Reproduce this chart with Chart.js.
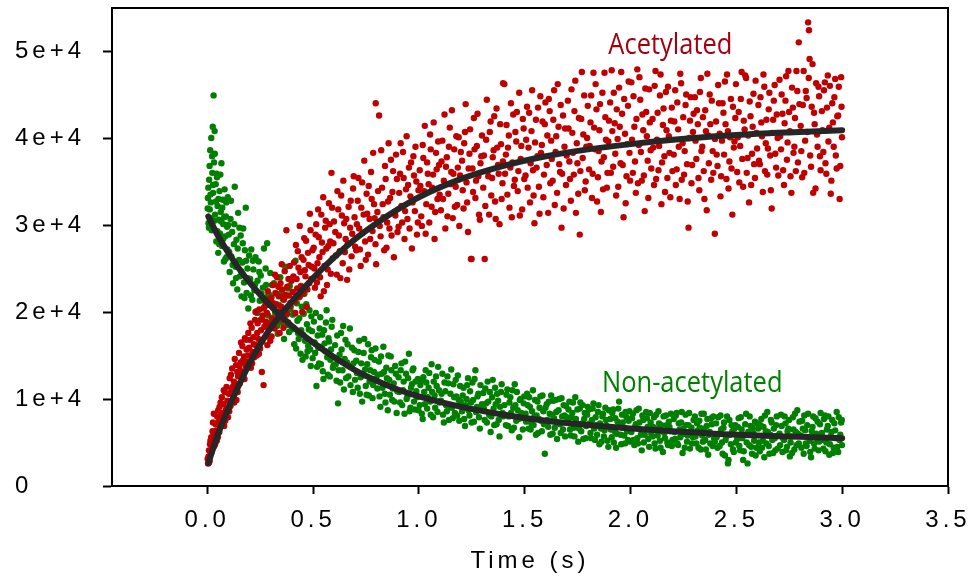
<!DOCTYPE html>
<html>
<head>
<meta charset="utf-8">
<script src="https://cdn.jsdelivr.net/npm/chart.js@4.4.1/dist/chart.umd.min.js"></script>
<style>
    html, body { margin: 0; padding: 0; background: #fff; }
    canvas { display: block; }
</style>
</head>
<body>
<canvas id="grafico" width="972" height="581"></canvas>
<script>
// eixos
const xTicks = [0, 0.5, 1.0, 1.5, 2.0, 2.5, 3.0, 3.5];
const yTicks = [0, 10000, 20000, 30000, 40000, 50000];
const yTickLabels = ['0', '1e+4', '2e+4', '3e+4', '4e+4', '5e+4'];

// pontos: [tempo (s), sinal]
const acetylatedPointsA = [
    [0.004,2600],[0.006,3400],[0.008,4100],[0.011,2900],[0.013,4800],[0.016,3700],[0.019,5600],[0.022,4400],[0.025,6300],[0.028,5100],
    [0.031,8300],[0.034,5900],[0.037,4800],[0.040,7100],[0.043,6400],[0.047,8000],[0.050,5600],[0.054,7400],[0.058,9100],[0.061,6800],
    [0.065,8400],[0.069,10200],[0.072,7600],[0.076,9400],[0.080,6900],[0.083,10800],[0.087,8700],[0.091,11400],[0.095,9800],[0.098,7900],
    [0.102,10600],[0.106,12400],[0.110,9200],[0.114,11100],[0.118,13500],[0.122,10300],[0.126,12000],[0.130,14600],[0.134,11700],[0.138,9900],
    [0.142,13100],[0.146,12600],[0.150,15300],[0.154,11800],[0.158,14200],[0.162,13200],[0.166,16100],[0.170,12900],[0.174,14900],[0.178,17000],
    [0.182,13800],[0.186,15700],[0.190,14300],[0.194,17600],[0.198,15900],
    [0.202,16800],[0.206,13600],[0.210,18200],[0.214,15400],[0.218,17100],[0.222,14800],[0.226,19100],[0.230,16200],[0.234,15000],[0.238,18700],
    [0.242,16900],[0.246,20300],[0.250,15800],[0.254,17900],[0.258,13100],[0.262,19600],[0.266,11600],[0.270,18300],[0.274,21200],[0.278,17200],
    [0.282,19900],[0.286,22400],[0.290,18600],[0.294,20800],[0.298,16700],
    [0.302,21600],[0.306,19300],[0.310,23100],[0.314,20400],[0.318,18100],[0.322,22200],[0.326,20900],[0.330,24000],[0.334,19700],[0.338,21800],
    [0.342,17600],[0.346,23300],[0.350,20600],[0.354,22600],[0.358,19100],[0.362,21400],[0.366,24700],[0.370,20100],[0.374,29400],[0.378,22900],
    [0.382,18800],[0.386,21900],[0.390,25300],[0.394,20700],[0.398,23600],
    [0.404,22300],[0.410,25700],[0.416,19900],[0.422,23800],[0.428,27000],[0.434,21700],[0.440,24600],[0.446,26300],[0.452,22100],[0.458,28500],
    [0.464,24100],[0.470,20600],[0.476,26800],[0.482,23300],[0.488,29400],[0.494,25200],
    [0.503,27400],[0.509,22800],[0.515,30100],[0.521,25600],[0.527,28600],[0.533,24000],[0.539,31200],[0.545,26900],[0.551,22400],[0.557,29700],
    [0.563,27300],[0.569,24900],[0.575,32500],[0.581,28100],[0.587,36000],[0.593,26200],[0.599,30400],
    [0.605,29200],[0.612,24300],[0.619,31800],[0.626,27000],[0.633,33400],[0.640,25600],[0.647,30200],[0.654,28400],[0.661,23700],[0.668,32100],
    [0.675,29700],[0.682,26400],[0.689,34200],[0.696,30900],
    [0.704,27100],[0.711,32800],[0.718,29600],[0.725,25300],[0.732,34900],[0.739,31200],[0.746,28100],[0.753,33600],[0.760,26600],[0.767,30700],
    [0.774,36100],[0.781,29300],[0.788,32400],[0.795,27800],[0.796,44000],
    [0.804,31500],[0.812,42600],[0.819,28700],[0.826,34300],[0.833,30900],[0.840,36800],[0.847,27400],[0.854,32700],[0.861,29600],[0.868,37500],
    [0.875,33800],[0.882,26300],[0.889,31100],[0.896,35300],
    [0.904,29800],[0.911,35900],[0.918,32200],[0.925,38400],[0.932,28400],[0.939,34100],[0.946,30700],[0.953,36600],[0.960,33300],[0.967,27300],
    [0.974,37900],[0.981,31600],[0.988,35000],[0.995,30300],
    [1.004,36300],[1.011,31000],[1.018,39200],[1.025,33900],[1.032,29000],[1.039,37200],[1.046,34700],[1.053,40400],[1.060,32100],[1.067,35800],
    [1.074,28400],[1.081,38300],[1.088,33000],[1.095,36900],
    [1.104,31700],[1.111,39700],[1.118,35100],[1.125,29600],[1.132,37800],[1.139,33600],[1.146,41200],[1.153,36100],[1.160,30800],[1.167,38700],
    [1.174,34400],[1.181,32300],[1.188,40100],[1.195,35700],
    [1.204,37400],[1.211,31900],[1.218,40700],[1.225,34900],[1.232,29200],[1.239,38200],[1.246,26100],[1.253,36500],[1.260,42300],[1.267,33100],
    [1.274,39100],[1.281,35600],[1.288,30600],[1.295,37900],
    [1.304,34300],[1.311,26100],[1.318,39800],[1.325,36200],[1.332,31200],[1.339,41900],[1.346,35400],[1.353,38600],[1.360,32700],[1.367,43400],
    [1.374,36900],[1.381,30100],[1.388,39300],[1.395,34800],[1.398,46300],
    [1.404,46200],[1.411,38100],[1.418,33500],[1.425,40300],[1.432,36600],[1.439,30900],[1.446,42700],[1.453,35200],[1.460,39600],[1.467,33900],
    [1.474,45200],[1.481,37600],[1.488,31800],[1.495,41100],
    [1.504,35700],[1.511,43600],[1.518,38900],[1.525,32600],[1.532,40800],[1.539,36300],[1.546,30200],[1.553,42100],[1.560,37900],[1.567,34400],
    [1.574,44800],[1.581,39200],[1.588,33200],[1.595,41600],
    [1.604,36900],[1.611,31400],[1.618,43100],[1.625,39700],[1.632,35100],[1.639,45500],[1.646,38400],[1.653,33700],[1.660,41300],[1.667,36100],
    [1.674,29700],[1.681,42600],[1.688,39000],[1.695,34600],
    [1.704,44300],[1.711,37300],[1.718,32800],[1.725,40600],[1.732,35800],[1.739,46600],[1.746,39400],[1.753,33600],[1.760,28900],[1.767,42200],
    [1.774,37700],[1.781,44900],[1.788,35000],[1.795,40000],
    [1.804,36400],[1.811,41800],[1.818,33100],[1.825,47500],[1.832,38700],[1.839,43300],[1.846,35500],[1.853,40900],[1.860,31500],[1.867,45200],
    [1.874,37800],[1.881,42400],[1.888,34300],[1.895,39600],
    [1.904,44100],[1.911,47800],[1.918,36700],[1.925,41700],[1.932,33400],[1.939,39900],[1.946,45800],[1.953,37100],[1.960,42800],[1.967,30900],
    [1.974,40500],[1.981,35600],[1.988,43700],[1.995,38300],
    [2.004,46400],[2.011,36000],[2.018,41300],[2.025,33700],[2.032,47900],[2.039,39200],[2.046,44400],[2.053,35100],[2.060,40900],[2.067,31600],
    [2.074,43000],[2.081,37400],[2.088,45600],[2.095,38600],
    [2.104,42200],[2.111,34600],[2.118,47700],[2.125,39800],[2.132,36300],[2.139,44900],[2.146,32400],[2.153,41500],[2.160,37900],[2.167,45300],
    [2.174,35400],[2.181,40200],[2.188,33200],[2.195,43500],
    [2.204,38100],[2.211,45500],[2.218,36400],[2.225,41000],[2.232,33000],[2.239,46300],[2.246,39400],[2.253,35800],[2.260,43800],[2.267,37000],
    [2.274,29700],[2.281,42000],[2.288,34800],[2.295,40700],
    [2.304,44700],[2.311,37600],[2.318,41600],[2.325,34000],[2.332,46900],[2.339,39000],[2.346,36200],[2.353,43200],[2.360,31700],[2.367,40300],
    [2.374,45000],[2.381,35200],[2.388,38500],[2.398,29000],
    [2.404,41900],[2.411,36800],[2.418,44000],[2.425,33300],[2.432,39700],[2.439,42900],[2.446,46500],[2.453,35300],[2.460,40800],[2.467,37300],
    [2.474,44500],[2.481,31200],[2.488,38900],[2.495,42300],
    [2.504,36100],[2.511,43000],[2.518,39100],[2.525,47600],[2.532,34400],[2.539,41000],[2.546,46900],[2.553,37700],[2.560,32600],[2.567,42500],
    [2.574,38200],[2.581,45100],[2.588,35400],[2.595,40600],
    [2.604,43800],[2.611,37000],[2.618,41800],[2.625,33800],[2.632,45900],[2.639,39400],[2.646,35800],[2.653,43300],[2.660,38000],[2.667,31900],
    [2.674,42100],[2.681,46100],[2.688,36600],[2.695,40000],
    [2.704,46700],[2.711,38700],[2.718,42800],[2.725,34600],[2.732,44300],[2.739,37500],[2.746,47700],[2.753,40800],[2.760,33700],[2.767,43500],
    [2.774,39000],[2.781,36200],[2.788,45400],[2.795,51000],
    [2.804,41400],[2.811,35500],[2.818,47700],[2.825,39700],[2.832,44600],[2.839,53300],[2.843,52400],[2.846,49100],[2.853,36700],[2.860,48500],
    [2.867,42900],[2.874,34200],[2.881,40400],[2.888,45900],[2.895,37900],
    [2.904,43100],[2.911,38400],[2.918,46400],[2.925,35900],[2.932,47200],[2.939,41200],[2.946,33600],[2.953,44000],[2.960,39000],[2.967,46800],
    [2.974,36500],[2.981,42600],[2.988,33000],[2.995,47000],[2.999,40100]
];

const acetylatedPointsB = [
    [0.002,3100],[0.009,2700],[0.015,5200],[0.020,3900],[0.027,7300],[0.033,4600],[0.039,6000],[0.045,5200],[0.052,8700],[0.057,6200],
    [0.063,9600],[0.070,8100],[0.078,11000],[0.085,7500],[0.093,9000],
    [0.104,8600],[0.112,12800],[0.120,11400],[0.128,9600],[0.136,13900],[0.144,10800],[0.152,13800],[0.160,16500],[0.168,14400],[0.176,12300],
    [0.184,16800],[0.192,15000],
    [0.204,18700],[0.212,14100],[0.220,16300],[0.228,20000],[0.236,17600],[0.244,15200],[0.252,19100],[0.260,16600],[0.268,20500],[0.276,18900],
    [0.284,16200],[0.292,21500],
    [0.304,17200],[0.312,21000],[0.320,24300],[0.328,19000],[0.336,22900],[0.344,20100],[0.352,25500],[0.360,18200],[0.368,22000],[0.376,19800],
    [0.384,23800],[0.392,21000],
    [0.407,24100],[0.413,21200],[0.419,27700],[0.425,22700],[0.431,25100],[0.437,29900],[0.443,23000],[0.449,20000],[0.455,26000],[0.461,24800],
    [0.467,28200],[0.473,22600],[0.479,25400],[0.485,31300],[0.491,23800],[0.497,27100],
    [0.506,25000],[0.512,28900],[0.518,23400],[0.524,31800],[0.530,26300],[0.536,21800],[0.542,28000],[0.548,33200],[0.554,25300],[0.560,30500],
    [0.566,23100],[0.572,27600],[0.578,30100],[0.584,24400],[0.590,32000],[0.596,27900],
    [0.608,26500],[0.615,33900],[0.622,28800],[0.629,23900],[0.636,31100],[0.643,35100],[0.650,26900],[0.657,30700],[0.664,27900],[0.671,24900],
    [0.678,32800],[0.685,29000],[0.692,35600],[0.699,27500],
    [0.707,30100],[0.714,35400],[0.721,27200],[0.728,32000],[0.735,29100],[0.742,37400],[0.749,26000],[0.756,31300],[0.763,34500],[0.770,28400],
    [0.777,33000],[0.784,38300],[0.791,30800],[0.798,25500],
    [0.807,33900],[0.815,29900],[0.822,38600],[0.829,32400],[0.836,27100],[0.843,35300],[0.850,30300],[0.857,39400],[0.864,33100],[0.871,28800],
    [0.878,36200],[0.885,31500],[0.892,38100],[0.899,29200],
    [0.907,33700],[0.914,39400],[0.921,30300],[0.928,35400],[0.935,31600],[0.942,40200],[0.949,34600],[0.956,29600],[0.963,37200],[0.970,32600],
    [0.977,35700],[0.984,39000],[0.991,28900],[0.998,34000],
    [1.007,34500],[1.014,29900],[1.021,37700],[1.028,41400],[1.035,32400],[1.042,35900],[1.049,30300],[1.056,38700],[1.063,34300],[1.070,41800],
    [1.077,31500],[1.084,36400],[1.091,39600],[1.098,33500],
    [1.107,37300],[1.114,33000],[1.121,42700],[1.128,36700],[1.135,31000],[1.142,39000],[1.149,34700],[1.156,43200],[1.163,35900],[1.170,32100],
    [1.177,40200],[1.184,36600],[1.191,29900],[1.198,38400],
    [1.207,34000],[1.214,39400],[1.221,43900],[1.228,32600],[1.235,36500],[1.242,41000],[1.249,26100],[1.256,33800],[1.263,38700],[1.270,35100],
    [1.277,42800],[1.284,31200],[1.291,37100],[1.298,40300],
    [1.307,38000],[1.314,32200],[1.321,44400],[1.328,35600],[1.335,40700],[1.342,33400],[1.349,37800],[1.356,42500],[1.363,30700],[1.370,38900],
    [1.377,35900],[1.384,41600],[1.391,33000],[1.397,37300],
    [1.407,35900],[1.414,41500],[1.421,38900],[1.428,32000],[1.435,44000],[1.442,37200],[1.449,34500],[1.456,40700],[1.463,43000],[1.470,36200],
    [1.477,31100],[1.484,39100],[1.491,42200],[1.498,35300],
    [1.507,39800],[1.514,34300],[1.521,42900],[1.528,37100],[1.535,45500],[1.542,33400],[1.549,39500],[1.556,36600],[1.563,43500],[1.570,31300],
    [1.577,38300],[1.584,41900],[1.591,35800],[1.598,44100],
    [1.607,40300],[1.614,44500],[1.621,34800],[1.628,37600],[1.635,42100],[1.642,32300],[1.649,40200],[1.656,46200],[1.663,37000],[1.670,43800],
    [1.677,35900],[1.684,31900],[1.691,41100],[1.698,38000],
    [1.707,41100],[1.714,35300],[1.721,45600],[1.728,38300],[1.735,43100],[1.742,31400],[1.749,37100],[1.756,42300],[1.763,36200],[1.770,47600],
    [1.777,40400],[1.784,34000],[1.791,39000],[1.798,43700],
    [1.807,39100],[1.814,44900],[1.821,35900],[1.828,41200],[1.835,46200],[1.842,32700],[1.849,38500],[1.856,43900],[1.863,37300],[1.870,34100],
    [1.877,47500],[1.884,39800],[1.891,36000],[1.898,42000],
    [1.907,36000],[1.914,40800],[1.921,45200],[1.928,38200],[1.935,43300],[1.942,34400],[1.949,41300],[1.956,47600],[1.963,36900],[1.970,44500],
    [1.977,32500],[1.984,39300],[1.991,46500],[1.998,35100],
    [2.007,39800],[2.014,44800],[2.021,37300],[2.028,42200],[2.035,34800],[2.042,47000],[2.049,38400],[2.056,42700],[2.063,35700],[2.070,45700],
    [2.077,40200],[2.084,33100],[2.091,41800],[2.098,36500],
    [2.107,38900],[2.114,46000],[2.121,35300],[2.128,42900],[2.135,39100],[2.142,47300],[2.149,37200],[2.156,43400],[2.163,33800],[2.170,40900],
    [2.177,45900],[2.184,38300],[2.191,42000],[2.198,36200],
    [2.207,41900],[2.214,34600],[2.221,44100],[2.228,39000],[2.235,47400],[2.242,35200],[2.249,42400],[2.256,38500],[2.263,45000],[2.270,32700],
    [2.277,40000],[2.284,44700],[2.291,36900],[2.298,42800],
    [2.307,39700],[2.314,43200],[2.321,35400],[2.328,45300],[2.335,38500],[2.342,42400],[2.349,33000],[2.356,40800],[2.363,47400],[2.370,37100],
    [2.377,41600],[2.384,44300],[2.391,36000],[2.399,39900],
    [2.407,38100],[2.414,46100],[2.421,40500],[2.428,35600],[2.435,44000],[2.442,38100],[2.449,41600],[2.456,47300],[2.463,34200],[2.470,40100],
    [2.477,36500],[2.484,43600],[2.491,39600],[2.498,46200],
    [2.507,40100],[2.514,34900],[2.521,44500],[2.528,37600],[2.535,42000],[2.542,47200],[2.549,36000],[2.556,40300],[2.563,44200],[2.570,34600],
    [2.577,41300],[2.584,37000],[2.591,46600],[2.598,38800],
    [2.607,37400],[2.614,44700],[2.621,40200],[2.628,47300],[2.635,36200],[2.642,42100],[2.649,38800],[2.656,45200],[2.663,34000],[2.670,40600],
    [2.677,44300],[2.684,38200],[2.691,42700],[2.698,35700],
    [2.707,40200],[2.714,45000],[2.721,36300],[2.728,41700],[2.735,47100],[2.742,39500],[2.749,43000],[2.756,35600],[2.763,45800],[2.770,38300],
    [2.777,42300],[2.784,47700],[2.791,37200],[2.798,43900],
    [2.807,38500],[2.814,43800],[2.821,36000],[2.828,45400],[2.835,40700],[2.842,46900],[2.849,38000],[2.856,43600],[2.863,33700],[2.870,41600],
    [2.877,46300],[2.884,39000],[2.891,44800],[2.898,36300],
    [2.907,40900],[2.914,45500],[2.921,37100],[2.928,43500],[2.935,39600],[2.942,46000],[2.949,35100],[2.956,41800],[2.963,44700],[2.970,38000],
    [2.977,42500],[2.984,45900],[2.991,36800],[2.997,43600]
];

const nonAcetylatedPointsA = [
    [0.003,33100],[0.006,30200],[0.009,35200],[0.012,31800],[0.014,38600],[0.017,32600],[0.019,40000],[0.021,29400],[0.024,36000],[0.026,41300],
    [0.028,33700],[0.030,44900],[0.032,37200],[0.035,40800],[0.037,31200],[0.040,34700],[0.043,28100],[0.046,35500],[0.049,32200],[0.052,26800],
    [0.055,30600],[0.058,33900],[0.061,29000],[0.064,31500],[0.067,37100],[0.070,27600],[0.073,32900],[0.076,30100],[0.079,25800],[0.082,34100],
    [0.085,28700],[0.088,31000],[0.091,26300],[0.094,29800],[0.097,33200],
    [0.102,28900],[0.106,24600],[0.110,30700],[0.114,26400],[0.118,29200],[0.122,23300],[0.126,27800],[0.130,34400],[0.134,25200],[0.138,28300],
    [0.142,22600],[0.146,31400],[0.150,26000],[0.154,24100],[0.158,28800],[0.162,21800],[0.166,25700],[0.170,29600],[0.174,23400],[0.178,27100],
    [0.182,32000],[0.186,22200],[0.190,25000],[0.194,20400],[0.198,26500],
    [0.203,23800],[0.208,27200],[0.213,21400],[0.218,24900],[0.223,22500],[0.228,26300],[0.233,20100],[0.238,23600],[0.243,25800],[0.248,21300],
    [0.253,24200],[0.258,19200],[0.263,22800],[0.268,27300],[0.273,20700],[0.278,23100],[0.283,27900],[0.288,19600],[0.293,22000],[0.298,24500],
    [0.303,21700],[0.309,18300],[0.315,23300],[0.321,19900],[0.327,22100],[0.333,17500],[0.339,20800],[0.345,24000],[0.351,18800],[0.357,21500],
    [0.363,16900],[0.369,25200],[0.375,19700],[0.381,22700],[0.387,17700],[0.393,20300],[0.399,18000],
    [0.405,19700],[0.411,16300],[0.417,25900],[0.423,21000],[0.429,17600],[0.435,19300],[0.441,15200],[0.447,20600],[0.453,17400],[0.459,22100],
    [0.465,14900],[0.471,18600],[0.477,16100],[0.483,20200],[0.489,13800],[0.495,17800],
    [0.504,18900],[0.510,15300],[0.516,11500],[0.522,17300],[0.528,14100],[0.534,19400],[0.540,16000],[0.546,13200],[0.552,17900],[0.558,15500],
    [0.564,20200],[0.570,12800],[0.576,16600],[0.582,14500],[0.588,18300],[0.594,13600],
    [0.604,16200],[0.611,12100],[0.618,9500],[0.625,15100],[0.632,17600],[0.639,13300],[0.646,11100],[0.653,16800],[0.660,14200],[0.667,12600],
    [0.674,18100],[0.681,13700],[0.688,10800],[0.695,15600],
    [0.704,14400],[0.711,11300],[0.718,16700],[0.725,12500],[0.732,9700],[0.739,15300],[0.746,13400],[0.753,10500],[0.760,16300],[0.767,12000],
    [0.774,14800],[0.781,10100],[0.788,13100],[0.795,15800],
    [0.804,11200],[0.811,14300],[0.818,9100],[0.825,12900],[0.832,16000],[0.839,10600],[0.846,13600],[0.853,8700],[0.860,12200],[0.867,14900],
    [0.874,9900],[0.881,11800],[0.888,13800],[0.895,8400],
    [0.904,12500],[0.911,9600],[0.918,14100],[0.925,11000],[0.932,8300],[0.939,12900],[0.946,10300],[0.953,15200],[0.960,9000],[0.967,11700],
    [0.974,13500],[0.981,8800],[0.988,10900],[0.995,12300],
    [1.004,9300],[1.011,12100],[1.018,7700],[1.025,10800],[1.032,13300],[1.039,8900],[1.046,11300],[1.053,9700],[1.060,14000],[1.067,7900],
    [1.074,10400],[1.081,12600],[1.088,8500],[1.095,11000],
    [1.104,9800],[1.111,12900],[1.118,7300],[1.125,10900],[1.132,8600],[1.139,11800],[1.146,9200],[1.153,13400],[1.160,7800],[1.167,10200],
    [1.174,12200],[1.181,8100],[1.188,9900],[1.195,11500],
    [1.204,8600],[1.211,11300],[1.218,6900],[1.225,10000],[1.232,12400],[1.239,8100],[1.246,9600],[1.253,11900],[1.260,7400],[1.267,13300],
    [1.274,9100],[1.281,10600],[1.288,6600],[1.295,8800],
    [1.304,10700],[1.311,7600],[1.318,9500],[1.325,12000],[1.332,8200],[1.339,6200],[1.346,10200],[1.353,8900],[1.360,11300],[1.367,7100],
    [1.374,9800],[1.381,5700],[1.388,10800],[1.395,8400],
    [1.404,9300],[1.411,7000],[1.418,11100],[1.425,8000],[1.432,10200],[1.439,6400],[1.446,9000],[1.453,11700],[1.460,7500],[1.467,8700],
    [1.474,5600],[1.481,10000],[1.488,7800],[1.495,9500],
    [1.504,8300],[1.511,10600],[1.518,6600],[1.525,9100],[1.532,7200],[1.539,11000],[1.546,8000],[1.553,5900],[1.560,9700],[1.567,7700],
    [1.574,10300],[1.581,6300],[1.588,8600],[1.595,3700],
    [1.604,9400],[1.611,6800],[1.618,8300],[1.625,10400],[1.632,6000],[1.639,7800],[1.646,9900],[1.653,5400],[1.660,8700],[1.667,7100],
    [1.674,10100],[1.681,6500],[1.688,8100],[1.695,9200],
    [1.704,7500],[1.711,9700],[1.718,5800],[1.725,8400],[1.732,6700],[1.739,10200],[1.746,7200],[1.753,5100],[1.760,8900],[1.767,6300],
    [1.774,9300],[1.781,7700],[1.788,5500],[1.795,8200],
    [1.804,8800],[1.811,6100],[1.818,7600],[1.825,9500],[1.832,5300],[1.839,7000],[1.846,8500],[1.853,4800],[1.860,6600],[1.867,8000],
    [1.874,5700],[1.881,9000],[1.888,6900],[1.895,4500],
    [1.904,7700],[1.911,5600],[1.918,8800],[1.925,6300],[1.932,4400],[1.939,7400],[1.946,9700],[1.953,5900],[1.960,8200],[1.967,6700],
    [1.974,4900],[1.981,7900],[1.988,5300],[1.995,8600],
    [2.004,6200],[2.011,8300],[2.018,4700],[2.025,7100],[2.032,5500],[2.039,8900],[2.046,6500],[2.053,4100],[2.060,7600],[2.067,5900],
    [2.074,8500],[2.081,6800],[2.088,4500],[2.095,7300],
    [2.104,5700],[2.111,7900],[2.118,4300],[2.125,6600],[2.132,8600],[2.139,5200],[2.146,7000],[2.153,3900],[2.160,6100],[2.167,8100],
    [2.174,5000],[2.181,7400],[2.188,6300],[2.195,4600],
    [2.204,7700],[2.211,5400],[2.218,8400],[2.225,4700],[2.232,6500],[2.239,7300],[2.246,3800],[2.253,6000],[2.260,8200],[2.267,5100],
    [2.274,7000],[2.281,4300],[2.288,6700],[2.295,5600],
    [2.304,8000],[2.311,4900],[2.318,6400],[2.325,7500],[2.332,4200],[2.339,5800],[2.346,8300],[2.353,5300],[2.360,6900],[2.367,3600],
    [2.374,6200],[2.381,7800],[2.388,4600],[2.395,5500],
    [2.404,7200],[2.411,4400],[2.418,6000],[2.425,8100],[2.432,5000],[2.439,6700],[2.446,3500],[2.453,5700],[2.460,2600],[2.467,7600],
    [2.474,4800],[2.481,6300],[2.488,3900],[2.495,7000],
    [2.504,5400],[2.511,7800],[2.518,4100],[2.525,6500],[2.532,3000],[2.539,5900],[2.546,8300],[2.553,2600],[2.560,4700],[2.567,6900],
    [2.574,3700],[2.581,6100],[2.588,7400],[2.595,4400],
    [2.604,6600],[2.611,4000],[2.618,7700],[2.625,5200],[2.632,3300],[2.639,6300],[2.646,8500],[2.653,4600],[2.660,5900],[2.667,7300],
    [2.674,3800],[2.681,5500],[2.688,7000],[2.695,4300],
    [2.704,6000],[2.711,8200],[2.718,3900],[2.725,5300],[2.732,7200],[2.739,4500],[2.746,6600],[2.753,3400],[2.760,5700],[2.767,7900],
    [2.774,4200],[2.781,6200],[2.788,8700],[2.795,4900],
    [2.804,5800],[2.811,7500],[2.818,3700],[2.825,6400],[2.832,4600],[2.839,8300],[2.846,5200],[2.853,3300],[2.860,6800],[2.867,4900],
    [2.874,7800],[2.881,5500],[2.888,4100],[2.895,7100],
    [2.904,6100],[2.911,4300],[2.918,8100],[2.925,5000],[2.932,6900],[2.939,3600],[2.946,5700],[2.953,7600],[2.960,4400],[2.967,6400],
    [2.974,8500],[2.981,3900],[2.988,5300],[2.995,7300],[2.999,4700]
];

const nonAcetylatedPointsB = [
    [0.002,31900],[0.005,34300],[0.008,29700],[0.011,36800],[0.015,33500],[0.018,30800],[0.023,37900],[0.027,34600],[0.033,30500],[0.036,38200],
    [0.041,32700],[0.044,35900],[0.048,29300],[0.053,33000],[0.057,27800],[0.062,35800],[0.066,30400],[0.071,32000],[0.075,28400],[0.080,30900],
    [0.086,26100],[0.090,32600],[0.095,27200],[0.099,30000],
    [0.104,26900],[0.112,32800],[0.120,25400],[0.128,30100],[0.136,23900],[0.144,27300],[0.152,29700],[0.160,24700],[0.168,27900],[0.176,21600],
    [0.184,25900],[0.192,23900],
    [0.206,21900],[0.216,25900],[0.226,23200],[0.236,19900],[0.246,24600],[0.256,22100],[0.266,20400],[0.276,25000],[0.286,21800],[0.296,18800],
    [0.306,23100],[0.318,20700],[0.330,18400],[0.342,22100],[0.354,19400],[0.366,21700],[0.378,18500],[0.390,23000],
    [0.408,18200],[0.414,21600],[0.420,15800],[0.426,19000],[0.432,16900],[0.438,21800],[0.444,17900],[0.450,14500],[0.456,19800],[0.462,16700],
    [0.468,20900],[0.474,15500],[0.480,18000],[0.486,15700],[0.492,19500],[0.498,14700],
    [0.507,16500],[0.513,19900],[0.519,13700],[0.525,15900],[0.531,18100],[0.537,14000],[0.543,17400],[0.549,12300],[0.555,16400],[0.561,18800],
    [0.567,14800],[0.573,17000],[0.579,12600],[0.585,15700],[0.591,19100],[0.597,13900],
    [0.607,14000],[0.614,17300],[0.621,13300],[0.628,11900],[0.635,15700],[0.642,18400],[0.649,14600],[0.656,12400],[0.663,16300],[0.670,13800],
    [0.677,11600],[0.684,15900],[0.691,14100],[0.698,12200],
    [0.707,13000],[0.714,15400],[0.721,10600],[0.728,14100],[0.735,12700],[0.742,16900],[0.749,11500],[0.756,14000],[0.763,10400],[0.770,13300],
    [0.777,15600],[0.784,11600],[0.791,14500],[0.798,12400],
    [0.807,12800],[0.814,10300],[0.821,14900],[0.828,11300],[0.835,13100],[0.842,9600],[0.849,12400],[0.856,15000],[0.863,10500],[0.870,13300],
    [0.877,11200],[0.884,9700],[0.891,12900],[0.898,10900],
    [0.907,10800],[0.914,13300],[0.921,9300],[0.928,12000],[0.935,14300],[0.942,10000],[0.949,12400],[0.956,8600],[0.963,11300],[0.970,13300],
    [0.977,9700],[0.984,12000],[0.991,10200],[0.998,8700],
    [1.007,11600],[1.014,8300],[1.021,12500],[1.028,9400],[1.035,11900],[1.042,10200],[1.049,13000],[1.056,8200],[1.063,10800],[1.070,12000],
    [1.077,9000],[1.084,11500],[1.091,13700],[1.098,9600],
    [1.107,10600],[1.114,8200],[1.121,11900],[1.128,9300],[1.135,12600],[1.142,7600],[1.149,10600],[1.156,9000],[1.163,11700],[1.170,8400],
    [1.177,10300],[1.184,12700],[1.191,7500],[1.198,9700],
    [1.207,10400],[1.214,7700],[1.221,9300],[1.228,11600],[1.235,8700],[1.242,10900],[1.249,7300],[1.256,9900],[1.263,12300],[1.270,8500],
    [1.277,10300],[1.284,7900],[1.291,11600],[1.298,9400],
    [1.307,8900],[1.314,11200],[1.321,7300],[1.328,9700],[1.335,10800],[1.342,8000],[1.349,12200],[1.356,7000],[1.363,9400],[1.370,10600],
    [1.377,7600],[1.384,9100],[1.391,11700],[1.398,8000],
    [1.407,8200],[1.414,10500],[1.421,6900],[1.428,9600],[1.435,8400],[1.442,11000],[1.449,6700],[1.456,9300],[1.463,10800],[1.470,7700],
    [1.477,9900],[1.484,8400],[1.491,6500],[1.498,10300],
    [1.507,7400],[1.514,9300],[1.521,10200],[1.528,6500],[1.535,8600],[1.542,7000],[1.549,9900],[1.556,8100],[1.563,6100],[1.570,9000],
    [1.577,7500],[1.584,10400],[1.591,7100],[1.598,9000],
    [1.607,7600],[1.614,9700],[1.621,5900],[1.628,8200],[1.635,9800],[1.642,6700],[1.649,8500],[1.656,7300],[1.663,10000],[1.670,6100],
    [1.677,8000],[1.684,9300],[1.691,5700],[1.698,7900],
    [1.707,8800],[1.714,6500],[1.721,7900],[1.728,9600],[1.735,5700],[1.742,7700],[1.749,8800],[1.756,6600],[1.763,9600],[1.770,7200],
    [1.777,5400],[1.784,8400],[1.791,6900],[1.798,9100],
    [1.807,7200],[1.814,5500],[1.821,8900],[1.828,6600],[1.835,7900],[1.842,5900],[1.849,9300],[1.856,7200],[1.863,5100],[1.870,8300],
    [1.877,6400],[1.884,7600],[1.891,5200],[1.898,8700],
    [1.907,6500],[1.914,8400],[1.921,5000],[1.928,7800],[1.935,6000],[1.942,8900],[1.949,6900],[1.956,4800],[1.963,7300],[1.970,5800],
    [1.977,8500],[1.984,6300],[1.991,7500],[1.998,5100],
    [2.007,7800],[2.014,5300],[2.021,6800],[2.028,8700],[2.035,4900],[2.042,7300],[2.049,5900],[2.056,8100],[2.063,5000],[2.070,6400],
    [2.077,7800],[2.084,5400],[2.091,8400],[2.098,6000],
    [2.107,6800],[2.114,4900],[2.121,8200],[2.128,5800],[2.135,7200],[2.142,4400],[2.149,6300],[2.156,8000],[2.163,5500],[2.170,7000],
    [2.177,4700],[2.184,6800],[2.191,8300],[2.198,5300],
    [2.207,6200],[2.214,8100],[2.221,4900],[2.228,7200],[2.235,5600],[2.242,8500],[2.249,6600],[2.256,4400],[2.263,7000],[2.270,5800],
    [2.277,8400],[2.284,6100],[2.291,4900],[2.298,7600],
    [2.307,5700],[2.314,7200],[2.321,4400],[2.328,6700],[2.335,8300],[2.342,5100],[2.349,6600],[2.356,4200],[2.363,7700],[2.370,5900],
    [2.377,4900],[2.384,7100],[2.391,8000],[2.398,5100],
    [2.407,5600],[2.414,7900],[2.421,4600],[2.428,6500],[2.435,3700],[2.442,7300],[2.449,5300],[2.456,8000],[2.463,3000],[2.470,5900],
    [2.477,7000],[2.484,4200],[2.491,6600],[2.498,5000],
    [2.507,6800],[2.514,4600],[2.521,7900],[2.528,5500],[2.535,4000],[2.542,7100],[2.549,5000],[2.556,6200],[2.563,8000],[2.570,4500],
    [2.577,6700],[2.584,5200],[2.591,3500],[2.598,7200],
    [2.607,5000],[2.614,7000],[2.621,4400],[2.628,6800],[2.635,8100],[2.642,4900],[2.649,6200],[2.656,3700],[2.663,7600],[2.670,5300],
    [2.677,6600],[2.684,4100],[2.691,8000],[2.698,5800],
    [2.707,4700],[2.714,6900],[2.721,5500],[2.728,8000],[2.735,4100],[2.742,6300],[2.749,7600],[2.756,5000],[2.763,3800],[2.770,6500],
    [2.777,8300],[2.784,4700],[2.791,6000],[2.798,7400],
    [2.807,4400],[2.814,6600],[2.821,8100],[2.828,4900],[2.835,7000],[2.842,5600],[2.849,3900],[2.856,6300],[2.863,8000],[2.870,4300],
    [2.877,6000],[2.884,7400],[2.891,5100],[2.898,8400],
    [2.907,5300],[2.914,7700],[2.921,4000],[2.928,6500],[2.935,8000],[2.942,4800],[2.949,6200],[2.956,3800],[2.963,7200],[2.970,5500],
    [2.977,4500],[2.984,7900],[2.991,5900],[2.998,7600]
];

const fitTimes = [0.005, 0.05, 0.1, 0.15, 0.2, 0.25, 0.3, 0.35, 0.4, 0.5, 0.6, 0.7, 0.8, 0.9, 1.0, 1.2, 1.4, 1.6, 1.8, 2.0, 2.2, 2.4, 2.6, 2.8, 3.0];
const acetylatedFit = [2600, 5900, 8900, 11600, 14100, 16300, 18200, 19800, 21200, 23900, 26300, 28400, 30200, 31800, 33200, 35300, 36800, 37900, 38700, 39300, 39800, 40200, 40500, 40700, 40900];
const nonAcetylatedFit = [31000, 28800, 26800, 25000, 23400, 22000, 20700, 19500, 18400, 16500, 14800, 13300, 12100, 11100, 10300, 9100, 8200, 7500, 7000, 6600, 6300, 6000, 5800, 5650, 5500];

const seriesLabels = ['Acetylated', 'Non-acetylated'];

function paraXY(lista) {
    return lista.map(([t, y]) => ({ x: t, y: y }));
}

function curvaXY(valores) {
    return fitTimes.map((t, i) => ({ x: t, y: valores[i] }));
}

const espacamentoPlugin = {
    id: 'espacamento',
    beforeDraw(chart) {
        chart.ctx.letterSpacing = '4px';
    }
};

// moldura superior e direita
const molduraPlugin = {
    id: 'moldura',
    afterDraw(chart) {
        const { ctx, chartArea } = chart;
        ctx.save();
        ctx.strokeStyle = '#000';
        ctx.lineWidth = 2;
        ctx.beginPath();
        ctx.moveTo(chartArea.left, chartArea.top);
        ctx.lineTo(chartArea.right, chartArea.top);
        ctx.lineTo(chartArea.right, chartArea.bottom);
        ctx.stroke();
        ctx.restore();
    }
};

const rotulosPlugin = {
    id: 'rotulos',
    afterDraw(chart, args, opts) {
        const { ctx, scales } = chart;
        ctx.save();
        ctx.letterSpacing = '0px';
        ctx.font = '30px "Open Sans"';
        ctx.textBaseline = 'alphabetic';
        ctx.textAlign = 'left';
        for (const r of opts.itens) {
            const px = scales.x.getPixelForValue(r.x);
            const py = scales.y.getPixelForValue(r.y);
            ctx.save();
            ctx.translate(px, py);
            ctx.scale(0.85, 1);
            ctx.fillStyle = r.cor;
            ctx.fillText(r.texto, 0, 0);
            ctx.restore();
        }
        ctx.restore();
    }
};

const fonteEixo = { family: '"Liberation Sans", Arial, sans-serif', size: 24 };

new Chart(document.getElementById('grafico'), {
    type: 'scatter',
    data: {
        datasets: [
            {
                label: seriesLabels[0] + ' fit',
                type: 'line',
                data: curvaXY(acetylatedFit),
                borderColor: '#262626',
                borderWidth: 6,
                borderCapStyle: 'round',
                pointRadius: 0,
                cubicInterpolationMode: 'monotone',
                order: 1
            },
            {
                label: seriesLabels[1] + ' fit',
                type: 'line',
                data: curvaXY(nonAcetylatedFit),
                borderColor: '#262626',
                borderWidth: 6,
                borderCapStyle: 'round',
                pointRadius: 0,
                cubicInterpolationMode: 'monotone',
                order: 2
            },
            {
                label: seriesLabels[0],
                data: paraXY(acetylatedPointsA.concat(acetylatedPointsB)),
                backgroundColor: '#c00000',
                borderWidth: 0,
                pointRadius: 3.2,
                order: 3
            },
            {
                label: seriesLabels[1],
                data: paraXY(nonAcetylatedPointsA.concat(nonAcetylatedPointsB)),
                backgroundColor: '#007f00',
                borderWidth: 0,
                pointRadius: 3.2,
                order: 4
            }
        ]
    },
    options: {
        responsive: false,
        animation: false,
        devicePixelRatio: 1,
        layout: { padding: { left: 15, top: 8, right: 24, bottom: 0 } },
        plugins: {
            legend: { display: false },
            tooltip: { enabled: false },
            rotulos: {
                itens: [
                    { texto: seriesLabels[0], x: 1.895, y: 49700, cor: '#a50010' },
                    { texto: seriesLabels[1], x: 1.865, y: 10800, cor: '#008000' }
                ]
            }
        },
        scales: {
            x: {
                type: 'linear',
                min: -0.45,
                max: 3.5,
                afterBuildTicks(scale) {
                    scale.ticks = xTicks.map((v) => ({ value: v }));
                },
                afterFit(scale) {
                    scale.height = 95;
                    scale.paddingLeft = 0;
                    scale.paddingRight = 0;
                },
                ticks: {
                    color: '#000',
                    font: fonteEixo,
                    padding: 12,
                    maxRotation: 0,
                    callback: (v) => Number(v).toFixed(1)
                },
                grid: {
                    drawOnChartArea: false,
                    drawTicks: true,
                    tickLength: 8,
                    tickColor: '#000',
                    tickWidth: 2
                },
                border: { display: true, color: '#000', width: 2 },
                title: {
                    display: true,
                    text: 'Time (s)',
                    color: '#000',
                    font: fonteEixo,
                    padding: { top: 0, bottom: 5 }
                }
            },
            y: {
                type: 'linear',
                min: 0,
                max: 54950,
                afterBuildTicks(scale) {
                    scale.ticks = yTicks.map((v) => ({ value: v }));
                },
                afterFit(scale) {
                    scale.width = 97;
                    scale.paddingTop = 0;
                    scale.paddingBottom = 0;
                },
                ticks: {
                    color: '#000',
                    font: fonteEixo,
                    crossAlign: 'far',
                    callback: (v) => yTickLabels[yTicks.indexOf(v)]
                },
                grid: {
                    drawOnChartArea: false,
                    drawTicks: true,
                    tickLength: 9,
                    tickColor: '#000',
                    tickWidth: 2
                },
                border: { display: true, color: '#000', width: 2 }
            }
        }
    },
    plugins: [espacamentoPlugin, molduraPlugin, rotulosPlugin]
});
</script>
</body>
</html>
